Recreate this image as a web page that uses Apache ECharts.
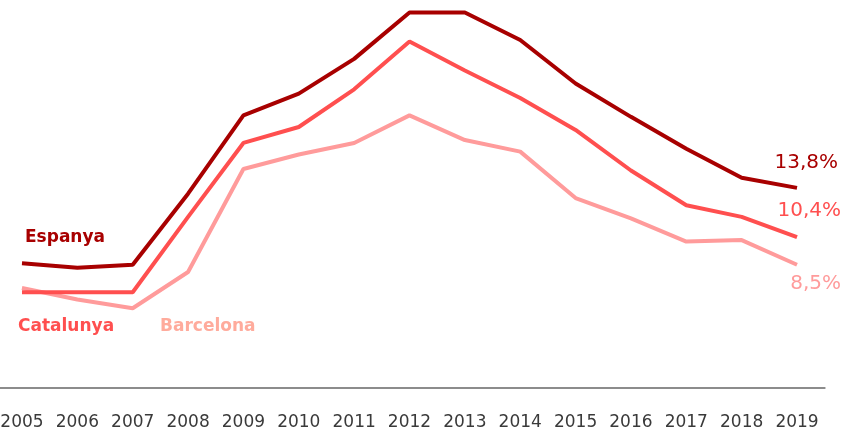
<!DOCTYPE html>
<html>
<head>
<meta charset="utf-8">
<script src="https://cdn.jsdelivr.net/npm/echarts@6/dist/echarts.min.js"></script>
<style>
  html, body { margin: 0; padding: 0; background: #fff; }
  #chart { width: 855px; height: 433px; }
</style>
</head>
<body>
<div id="chart"></div>
<script>
const years = ["2005", "2006", "2007", "2008", "2009", "2010", "2011", "2012",
  "2013", "2014", "2015", "2016", "2017", "2018", "2019"];
const espanya = [8.6, 8.3, 8.5, 13.4, 18.8, 20.3, 22.7, 25.9, 25.9, 24.0, 21.0, 18.7, 16.5, 14.5, 13.8];
const catalunya = [6.6, 6.6, 6.6, 11.8, 16.9, 18.0, 20.6, 23.9, 21.9, 20.0, 17.8, 15.0, 12.6, 11.8, 10.4];
const barcelona = [6.9, 6.1, 5.5, 8.0, 15.1, 16.1, 16.9, 18.8, 17.1, 16.3, 13.1, 11.7, 10.1, 10.2, 8.5];

const colEsp = "#a80000";
const colCat = "#ff4f4f";
const colBcn = "#ff9b9b";
const font = "DejaVu Sans";

// 13.8 -> "13,8%"
const pct = (p) => p.value.toFixed(1).replace(".", ",") + "%";

function lineSeries(name, data, color, offset) {
  return {
    name: name,
    type: "line",
    data: data,
    symbol: "none",
    lineStyle: { color: color, width: 4 },
    itemStyle: { color: color },
    endLabel: {
      show: true,
      formatter: pct,
      color: color,
      fontFamily: font,
      fontSize: 20,
      align: "right",
      verticalAlign: "middle",
      distance: 0,
      offset: offset,
    },
  };
}

const chart = echarts.init(document.getElementById("chart"));
chart.setOption({
  animation: false,
  grid: { left: -5.7, right: 30.3, top: 11, bottom: 45, outerBoundsMode: "none", containLabel: false },
  xAxis: {
    type: "category",
    data: years,
    boundaryGap: true,
    axisLine: { lineStyle: { color: "#8c8c8c", width: 2 } },
    axisTick: { show: false },
    axisLabel: { color: "#3a3a3a", fontFamily: font, fontSize: 17, margin: 26, interval: 0 },
  },
  yAxis: {
    type: "value",
    min: 0,
    max: 26,
    show: false,
    splitLine: { show: false },
  },
  series: [
    lineSeries("Barcelona", barcelona, colBcn, [44, 19]),
    lineSeries("Catalunya", catalunya, colCat, [44, -26]),
    lineSeries("Espanya", espanya, colEsp, [41, -25]),
  ],
  graphic: [
    { type: "text", left: 25, top: 229, style: { text: "Espanya", fill: colEsp, font: "bold 17px " + font } },
    { type: "text", left: 18, top: 318, style: { text: "Catalunya", fill: colCat, font: "bold 17px " + font } },
    { type: "text", left: 160, top: 318, style: { text: "Barcelona", fill: "#ffab9c", font: "bold 17px " + font } },
  ],
});
</script>
</body>
</html>
